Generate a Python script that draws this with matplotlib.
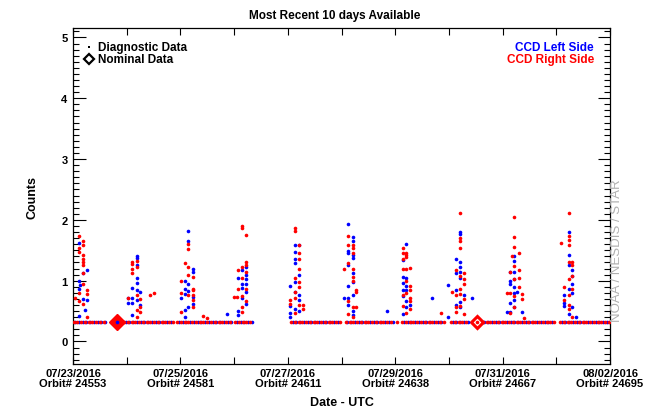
import matplotlib
matplotlib.use("Agg")
import matplotlib.pyplot as plt
from matplotlib.ticker import FixedLocator, MultipleLocator

plt.rcParams['font.family'] = ['Liberation Sans', 'DejaVu Sans']

# ---- data (x in days since 07/23/2016 00:00 UTC) ----
tick_days = [0, 2, 4, 6, 8, 10]
tick_dates = ["07/23/2016", "07/25/2016", "07/27/2016", "07/29/2016", "07/31/2016", "08/02/2016"]
tick_orbits = ["24553", "24581", "24611", "24638", "24667", "24695"]

baseline_level = 0.32

red_base_days = [
    0.01, 0.08, 0.15, 0.22, 0.29, 0.36, 0.43, 0.50, 0.57,
    0.95, 1.02, 1.09, 1.16, 1.23, 1.30, 1.37, 1.44, 1.51, 1.58, 1.65, 1.72, 1.79, 1.86,
    1.94, 2.01, 2.08, 2.15, 2.22, 2.29, 2.36, 2.43, 2.50, 2.57, 2.64, 2.71, 2.78, 2.85, 2.92,
    3.02, 3.09, 3.16, 3.23, 3.30,
    4.06, 4.13, 4.20, 4.27, 4.34, 4.41, 4.48, 4.55, 4.62, 4.69, 4.76, 4.83, 4.90, 4.97,
    5.08, 5.15, 5.22, 5.29, 5.36, 5.43, 5.50, 5.57, 5.64, 5.71, 5.78, 5.85, 5.92,
    6.03,
    6.13, 6.20, 6.27, 6.34, 6.41, 6.48, 6.55, 6.62, 6.69, 6.76, 6.83, 6.90,
    7.04, 7.11, 7.18, 7.25, 7.32, 7.52,
    7.63, 7.70, 7.77, 7.84, 7.91, 7.98, 8.05, 8.12, 8.19, 8.26, 8.33, 8.40, 8.47, 8.54,
    8.61, 8.68, 8.75, 8.82, 8.89, 8.96,
    9.07, 9.14, 9.21, 9.28, 9.35, 9.42, 9.49, 9.56, 9.63, 9.70, 9.77, 9.84, 9.91, 9.98,
]
blue_base_days = [
    0.04, 0.11, 0.18, 0.25, 0.32, 0.39, 0.46, 0.53, 0.60, 0.82,
    0.98, 1.05, 1.12, 1.19, 1.26, 1.33, 1.40, 1.47, 1.54, 1.61, 1.68, 1.75, 1.82,
    1.97, 2.04, 2.11, 2.18, 2.25, 2.32, 2.39, 2.46, 2.53, 2.60, 2.67, 2.74, 2.81, 2.88, 2.95,
    3.05, 3.12, 3.19, 3.26, 3.33,
    4.09, 4.16, 4.23, 4.30, 4.37, 4.44, 4.51, 4.58, 4.65, 4.72, 4.79, 4.86, 4.93,
    5.11, 5.18, 5.25, 5.32, 5.39, 5.46, 5.53, 5.60, 5.67, 5.74, 5.81, 5.88, 5.95,
    6.16, 6.23, 6.30, 6.37, 6.44, 6.51, 6.58, 6.65, 6.72, 6.79, 6.86,
    7.07, 7.14, 7.21, 7.28, 7.35,
    7.66, 7.73, 7.80, 7.87, 7.94, 8.01, 8.08, 8.15, 8.22, 8.29, 8.36, 8.43, 8.50, 8.57,
    8.64, 8.71, 8.78, 8.85, 8.92,
    9.10, 9.17, 9.24, 9.31, 9.38, 9.45, 9.52, 9.59, 9.66, 9.73, 9.80, 9.87, 9.94,
]

# elevated diagnostic readings, CCD right side (red)
red_spike_days = [
    0.11, 0.19, 0.19, 0.11, 0.11, 0.19, 0.19, 0.19, 0.19, 0.19, 0.26, 0.11, 0.04, 0.11, 0.19, 0.26, 0.19, 0.26,
    1.09, 1.09, 1.09, 1.19, 1.19, 1.02, 1.19, 1.25, 1.25, 1.25, 1.19, 1.43, 1.51, 1.09, 1.19,
    2.15, 2.15, 2.09, 2.15, 2.15, 2.23, 2.02, 2.23, 2.23, 2.02, 2.23, 2.15, 2.23, 2.02, 2.42, 2.50, 2.23,
    3.14, 3.14, 3.22, 3.22, 3.22, 3.14, 3.14, 3.22, 3.08, 3.14, 3.00, 3.05, 3.22, 3.14, 3.14, 3.08, 3.22,
    4.13, 4.13, 4.21, 4.21, 4.21, 4.13, 4.21, 4.21, 4.13, 4.13, 4.05, 4.05, 4.21, 4.28, 4.28, 4.13, 4.21,
    5.13, 5.13, 5.21, 5.21, 5.21, 5.13, 5.04, 5.21, 5.21, 5.21, 5.27, 5.27, 5.13, 5.21, 5.27, 5.21, 5.13,
    6.15, 6.15, 6.21, 6.21, 6.15, 6.21, 6.15, 6.21, 6.27, 6.21, 6.27, 6.27, 6.15, 6.27, 6.27, 6.15, 6.27, 6.21, 6.85, 6.21,
    7.20, 7.20, 7.20, 7.20, 7.28, 7.20, 7.28, 7.28, 7.20, 7.14, 7.20, 7.28, 7.14, 7.20, 7.14, 7.28, 7.05, 7.14,
    8.21, 8.21, 8.21, 8.30, 8.17, 8.21, 8.14, 8.30, 8.21, 8.30, 8.30, 8.08, 8.14, 8.21, 8.36, 8.36, 8.21, 8.14, 8.40,
    9.23, 9.23, 9.23, 9.09, 9.23, 9.29, 9.23, 9.29, 9.15, 9.29, 9.23, 9.15, 9.23, 9.23, 9.29, 9.23, 9.29,
]
red_spike_counts = [
    1.74, 1.66, 1.58, 1.53, 1.47, 1.42, 1.36, 1.30, 1.26, 1.13, 0.85, 0.80, 0.72, 0.66, 0.62, 0.40, 0.95, 0.78,
    1.31, 1.19, 1.13, 1.33, 1.22, 0.71, 0.76, 0.70, 0.56, 0.48, 0.40, 0.76, 0.79, 1.27, 0.52,
    1.60, 1.52, 1.29, 1.23, 1.09, 1.06, 0.99, 0.87, 0.84, 0.79, 0.76, 0.76, 0.57, 0.48, 0.42, 0.38, 0.68,
    1.90, 1.86, 1.75, 1.30, 1.26, 1.22, 1.04, 0.87, 0.87, 0.74, 0.73, 0.73, 0.66, 0.57, 0.49, 1.17, 1.15,
    1.86, 1.82, 1.59, 1.35, 1.19, 1.04, 0.98, 0.89, 0.81, 0.71, 0.68, 0.62, 0.60, 0.60, 0.54, 0.47, 1.45,
    1.74, 1.58, 1.58, 1.53, 1.45, 1.29, 1.19, 1.19, 1.06, 1.00, 0.84, 0.81, 0.66, 0.57, 0.57, 0.40, 0.45,
    1.53, 1.45, 1.45, 1.42, 1.36, 1.39, 1.19, 1.19, 1.21, 1.00, 0.91, 0.84, 0.77, 0.71, 0.67, 0.59, 0.54, 0.47, 0.47, 0.80,
    2.11, 1.70, 1.65, 1.53, 1.13, 1.07, 1.02, 0.95, 0.87, 0.76, 0.78, 0.70, 0.57, 0.59, 0.49, 0.45, 0.82, 1.18,
    2.05, 1.72, 1.55, 1.45, 1.40, 1.24, 1.15, 1.18, 1.03, 1.04, 0.90, 0.79, 0.79, 0.74, 0.78, 0.70, 0.57, 0.47, 0.38,
    2.12, 1.73, 1.67, 1.62, 1.59, 1.31, 1.30, 1.26, 0.90, 0.87, 0.76, 0.69, 0.60, 0.53, 0.40, 1.02, 1.08,
]

# elevated diagnostic readings, CCD left side (blue)
blue_spike_days = [
    0.11, 0.26, 0.11, 0.13, 0.19, 0.26, 0.23, 0.11, 0.19, 0.11,
    1.19, 1.19, 1.19, 1.19, 1.19, 1.09, 1.19, 1.25, 1.02, 1.09, 1.02, 1.09, 1.09, 1.25, 1.19,
    2.15, 2.15, 2.23, 2.23, 2.09, 2.15, 2.09, 2.09, 2.15, 2.02, 2.23, 2.15, 2.09, 2.87, 2.23, 2.09,
    3.22, 3.14, 3.22, 3.08, 3.14, 3.22, 3.14, 3.22, 3.14, 3.22, 3.08, 3.08, 3.22,
    4.13, 4.21, 4.13, 4.13, 4.13, 4.21, 4.13, 4.05, 4.13, 4.21, 4.21, 4.05, 4.13, 4.21, 4.05, 4.05,
    5.13, 5.21, 5.21, 5.13, 5.21, 5.13, 5.21, 5.13, 5.21, 5.21, 5.13, 5.21, 5.04, 5.13, 5.13, 5.21, 5.21, 5.85,
    6.21, 6.15, 6.15, 6.21, 6.15, 6.21, 6.15, 6.21, 6.15, 6.21, 6.21, 6.15, 6.69, 6.27,
    7.20, 7.20, 7.14, 7.20, 7.21, 7.20, 6.98, 7.14, 7.28, 7.20, 7.14, 7.20, 6.98, 7.43, 7.14, 7.20,
    8.21, 8.21, 8.14, 8.21, 8.14, 8.21, 8.14, 8.21, 8.21, 8.27, 8.14, 8.21, 8.08, 8.14, 8.36, 8.21,
    9.23, 9.23, 9.23, 9.29, 9.29, 9.23, 9.29, 9.15, 9.15, 9.29, 9.37, 9.23, 9.29, 9.15,
]
blue_spike_counts = [
    1.62, 1.18, 1.00, 0.93, 0.70, 0.68, 0.52, 0.42, 1.12, 0.86,
    1.41, 1.38, 1.25, 1.04, 0.96, 0.88, 0.84, 0.81, 0.71, 0.72, 0.64, 0.64, 0.43, 0.60, 0.68,
    1.82, 1.65, 1.19, 1.14, 0.99, 0.95, 0.86, 0.78, 0.83, 0.71, 0.62, 0.57, 0.51, 0.45, 0.73, 0.40,
    1.22, 1.17, 1.10, 1.04, 0.95, 0.95, 0.88, 0.82, 0.71, 0.62, 0.50, 0.43, 1.02,
    1.59, 1.59, 1.47, 1.35, 1.29, 1.09, 0.98, 0.91, 0.82, 0.76, 0.68, 0.58, 0.54, 0.50, 0.47, 0.40,
    1.93, 1.71, 1.66, 1.48, 1.42, 1.45, 1.37, 1.25, 1.13, 0.97, 0.91, 0.76, 0.71, 0.71, 0.60, 0.50, 0.44, 0.50,
    1.61, 1.34, 1.06, 1.04, 0.96, 0.91, 0.84, 0.84, 0.74, 0.66, 0.56, 0.45, 0.72, 0.60,
    1.80, 1.76, 1.35, 1.31, 1.15, 1.04, 0.93, 0.84, 0.76, 0.65, 0.60, 0.57, 0.41, 0.71, 1.12, 1.22,
    1.41, 1.32, 1.14, 1.14, 1.00, 1.02, 0.95, 0.89, 0.80, 0.82, 0.64, 0.57, 0.49, 0.48, 0.48, 0.68,
    1.80, 1.43, 1.26, 1.07, 0.95, 0.87, 0.80, 0.76, 0.64, 0.56, 0.40, 0.45, 1.17, 0.58,
]

# nominal (science) data points
nominal_filled_day = [0.82]
nominal_filled_count = [0.32]
nominal_open_day = [7.52]
nominal_open_count = [0.32]

RED = "#ff0000"
BLUE = "#0000ff"

fig = plt.figure(figsize=(6.46, 4.10), dpi=100)
ax = fig.add_axes([0.1130, 0.1098, 0.8313, 0.8187])

ax.plot(nominal_filled_day, nominal_filled_count, linestyle="none", marker="D",
        ms=8.5, mfc=RED, mec=RED, mew=1.0, zorder=2)
ax.plot(nominal_open_day, nominal_open_count, linestyle="none", marker="D",
        ms=6.2, mfc="white", mec=RED, mew=2.2, zorder=2)

pt = dict(linestyle="none", marker="o", ms=2.6, mew=0)
ax.plot(blue_base_days, [baseline_level] * len(blue_base_days), color=BLUE, zorder=3, **pt)
ax.plot(blue_spike_days, blue_spike_counts, color=BLUE, zorder=3, **pt)
ax.plot(red_base_days, [baseline_level] * len(red_base_days), color=RED, zorder=3, **pt)
ax.plot(red_spike_days, red_spike_counts, color=RED, zorder=3, **pt)

ax.set_xlim(0, 10)
ax.set_ylim(-0.37, 5.15)

ax.xaxis.set_major_locator(FixedLocator(tick_days))
ax.xaxis.set_minor_locator(MultipleLocator(1))
ax.set_xticklabels([f"{d}\nOrbit# {o}" for d, o in zip(tick_dates, tick_orbits)],
                   fontsize=8, fontweight="bold", linespacing=1.0)
ax.yaxis.set_major_locator(MultipleLocator(1))
ax.yaxis.set_minor_locator(MultipleLocator(0.1))
ax.set_yticks(range(0, 6))
ax.set_yticklabels([str(v) for v in range(0, 6)], fontsize=8, fontweight="bold")

ax.tick_params(axis="x", which="both", direction="in", top=True, bottom=True,
               length=5, width=0.8, pad=3)
ax.tick_params(axis="y", which="major", direction="in", left=True, right=True,
               length=9, width=0.8, pad=4)
ax.tick_params(axis="y", which="minor", direction="in", left=True, right=True,
               length=4, width=0.8)
for s in ax.spines.values():
    s.set_linewidth(0.9)

ax.set_xlabel("Date - UTC", fontsize=9, fontweight="bold", labelpad=6)
ax.set_ylabel("Counts", fontsize=9, fontweight="bold", labelpad=16)
fig.text(335 / 646, 1 - 16 / 410, "Most Recent 10 days Available", ha="center", va="center",
         fontsize=8.5, fontweight="bold")

# legend, top-left
ax.plot([0.30], [4.85], linestyle="none", marker="s", ms=2.0, mew=0, color="black")
ax.plot([0.30], [4.65], linestyle="none", marker="D", ms=5.5, mfc="white", mec="black", mew=1.6)
ax.text(0.47, 4.85, "Diagnostic Data", fontsize=8.5, fontweight="bold", va="center", ha="left")
ax.text(0.47, 4.65, "Nominal Data", fontsize=8.5, fontweight="bold", va="center", ha="left")

# legend, top-right
ax.text(9.7, 4.85, "CCD Left Side", fontsize=8.5, fontweight="bold", va="center", ha="right", color=BLUE)
ax.text(9.7, 4.65, "CCD Right Side", fontsize=8.5, fontweight="bold", va="center", ha="right", color=RED)

fig.text(617 / 646, 1 - 251 / 410, "NOAA / NESDIS / STAR", rotation=90, ha="center", va="center",
         fontsize=9.5, color="#b0b0b0")

fig.savefig("out.png", dpi=100)
